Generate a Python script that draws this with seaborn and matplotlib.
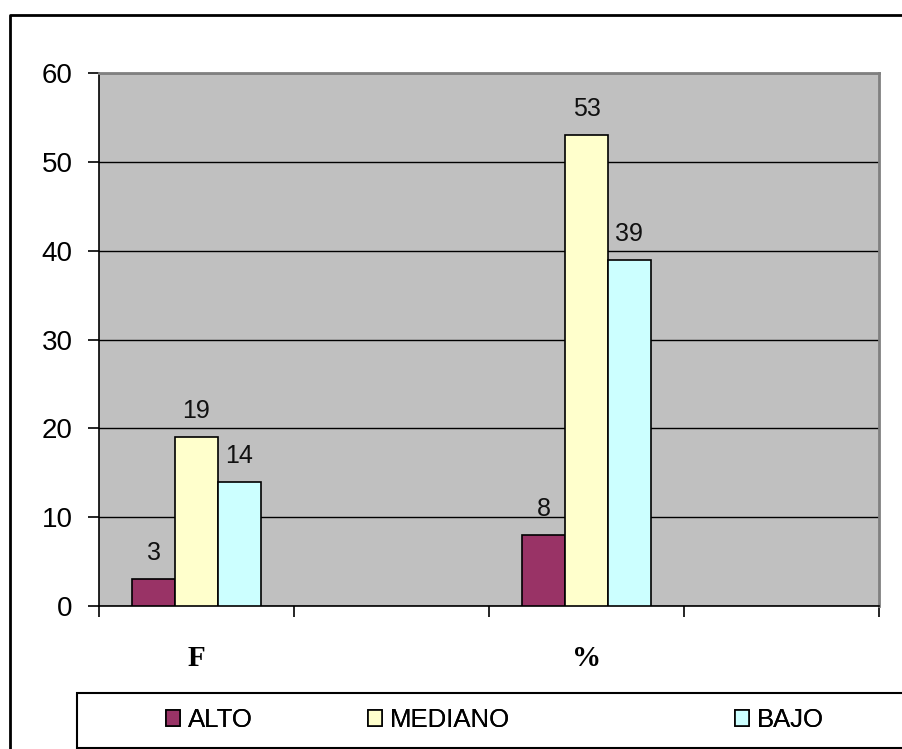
import matplotlib
matplotlib.use("Agg")
import matplotlib.pyplot as plt
from matplotlib.patches import Rectangle
from matplotlib.lines import Line2D
from matplotlib.ticker import FixedLocator
import seaborn as sns
import pandas as pd

# Data
categories = ["F", "%"]
levels = ["ALTO", "MEDIANO", "BAJO"]
alto = [3, 8]
mediano = [19, 53]
bajo = [14, 39]
yticks = [0, 10, 20, 30, 40, 50, 60]

# Category slots on the axis: two labelled groups, each followed by an empty slot
slots = ["F", "_gap1", "%", "_gap2"]
slot_labels = ["F", "", "%", ""]

colors = {"ALTO": "#993366", "MEDIANO": "#FFFFCC", "BAJO": "#CCFFFF"}

df = pd.DataFrame({
    "categoria": categories * 3,
    "nivel": [lv for lv in levels for _ in categories],
    "valor": alto + mediano + bajo,
})

W, H = 902, 749
fig = plt.figure(figsize=(W / 100, H / 100), dpi=100)
fig.patch.set_facecolor("white")

def px_x(x):
    return x / W

def px_y(y):
    return 1 - y / H

left, right, top, bottom = 99, 879, 73, 606
ax = fig.add_axes([px_x(left), px_y(bottom), (right - left) / W, (bottom - top) / H])
ax.set_facecolor("#C0C0C0")

sns.barplot(
    data=df, x="categoria", y="valor", hue="nivel",
    order=slots, hue_order=levels, palette=colors, saturation=1,
    width=0.66, edgecolor="black", linewidth=1.2,
    legend=False, ax=ax, zorder=3,
)

ax.set_xlim(-0.5, 3.5)
ax.set_ylim(0, 60)
ax.set_yticks(yticks)
ax.yaxis.grid(True, color="black", linewidth=1.0, zorder=1)
ax.set_axisbelow(True)

# Spines: black axis lines, grey plot-area border
for s in ["left", "bottom"]:
    ax.spines[s].set_color("black")
    ax.spines[s].set_linewidth(1.2)
for s in ["top", "right"]:
    ax.spines[s].set_color("#808080")
    ax.spines[s].set_linewidth(2.0)

tick_font = dict(family="Liberation Sans", size=20)
ax.set_yticklabels([str(v) for v in yticks], **tick_font)
ax.tick_params(axis="y", length=8, width=1.2, color="black", pad=11, direction="out")

# Category labels centred on slots, tick marks on slot boundaries
ax.set_xticks(range(len(slots)))
ax.set_xticklabels(slot_labels, family="Liberation Serif", weight="bold", size=21)
ax.tick_params(axis="x", which="major", length=0, pad=28)
ax.xaxis.set_minor_locator(FixedLocator([-0.5, 0.5, 1.5, 2.5, 3.5]))
ax.tick_params(axis="x", which="minor", length=8, width=1.2, color="black", direction="out")
ax.set_xlabel("")
ax.set_ylabel("")

# Value labels over the bars
for cont in ax.containers:
    ax.bar_label(cont, fmt="%g", padding=10, family="Liberation Sans", size=18, color="#111111")

# Outer chart frame
fig.add_artist(Line2D([px_x(10), px_x(10), px_x(905)], [px_y(752), px_y(15), px_y(15)],
                      transform=fig.transFigure, color="black", linewidth=2.0))

# Legend box
fig.add_artist(Rectangle((px_x(77), px_y(748)), (910 - 77) / W, (748 - 693) / H,
                         transform=fig.transFigure, facecolor="white",
                         edgecolor="black", linewidth=1.5))

legend_x = {"ALTO": 166, "MEDIANO": 368, "BAJO": 735}
for cont, lv in zip(ax.containers, levels):
    leg = fig.legend([cont], [lv], loc="center left",
                     bbox_to_anchor=(px_x(legend_x[lv]), px_y(720)),
                     bbox_transform=fig.transFigure, frameon=False,
                     borderpad=0, borderaxespad=0, handlelength=0.55, handleheight=0.55,
                     handletextpad=0.3, prop=dict(family="Liberation Sans", size=18.5))
    fig.add_artist(leg)

fig.savefig("out.png", dpi=100, facecolor="white")
